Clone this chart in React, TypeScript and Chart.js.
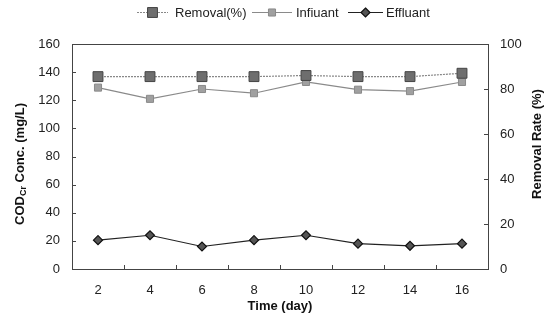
import React, { useEffect, useRef } from 'react';
import { Chart, registerables } from 'chart.js';

Chart.register(...registerables);

const days = ['2', '4', '6', '8', '10', '12', '14', '16'];
const removalRate = [85.5, 85.5, 85.5, 85.5, 86, 85.5, 85.5, 87];
const influent = [129, 121, 128, 125, 133, 127.5, 126.5, 133];
const effluent = [20.5, 24, 16, 20.5, 24, 18, 16.5, 18];
const legendLabels = ['Removal(%)', 'Infiuant', 'Effluant'];

const FONT = "'Liberation Sans', Arial, Helvetica, sans-serif";

const decorPlugin = {
  id: 'decor',
  beforeDatasetsDraw(chart: any) {
    const { ctx, chartArea: a, scales } = chart;
    ctx.save();
    ctx.strokeStyle = '#444';
    ctx.lineWidth = 1;
    ctx.strokeRect(Math.round(a.left) + 0.5, Math.round(a.top) + 0.5, Math.round(a.right - a.left), Math.round(a.bottom - a.top));
    ctx.beginPath();
    const yl = scales.y;
    yl.ticks.forEach((t: any) => {
      const y = Math.round(yl.getPixelForValue(t.value)) + 0.5;
      ctx.moveTo(a.left, y);
      ctx.lineTo(a.left + 4, y);
    });
    const yr = scales.y2;
    yr.ticks.forEach((t: any) => {
      const y = Math.round(yr.getPixelForValue(t.value)) + 0.5;
      ctx.moveTo(a.right - 4, y);
      ctx.lineTo(a.right, y);
    });
    const xs = scales.x;
    for (let i = 1; i < days.length; i++) {
      const x = Math.round((xs.getPixelForValue(i - 1) + xs.getPixelForValue(i)) / 2) + 0.5;
      ctx.moveTo(x, a.bottom);
      ctx.lineTo(x, a.bottom - 4);
    }
    ctx.stroke();
    ctx.restore();
  },
  afterDraw(chart: any) {
    const { ctx, chartArea: a } = chart;
    ctx.save();
    ctx.fillStyle = '#111';
    ctx.textBaseline = 'middle';
    // x title
    ctx.font = `bold 13px ${FONT}`;
    ctx.textAlign = 'center';
    ctx.fillText('Time (day)', (a.left + a.right) / 2, 306);

    // left title with subscript
    ctx.save();
    ctx.translate(20, 164);
    ctx.rotate(-Math.PI / 2);
    ctx.textAlign = 'left';
    const big = `bold 13px ${FONT}`;
    const small = `bold 9px ${FONT}`;
    ctx.font = big;
    const w1 = ctx.measureText('COD').width;
    const w3 = ctx.measureText(' Conc. (mg/L)').width;
    ctx.font = small;
    const w2 = ctx.measureText('Cr').width;
    let x = -(w1 + w2 + w3) / 2;
    ctx.font = big;
    ctx.fillText('COD', x, 0);
    x += w1;
    ctx.font = small;
    ctx.fillText('Cr', x, 4);
    x += w2;
    ctx.font = big;
    ctx.fillText(' Conc. (mg/L)', x, 0);
    ctx.restore();

    // right title
    ctx.save();
    ctx.translate(537, 144);
    ctx.rotate(-Math.PI / 2);
    ctx.textAlign = 'center';
    ctx.font = big;
    ctx.fillText('Removal Rate (%)', 0, 0);
    ctx.restore();

    // legend
    const ly = 12.5;
    const items = [
      { x0: 137, x1: 168, tx: 175 },
      { x0: 252, x1: 292, tx: 296 },
      { x0: 348, x1: 383, tx: 386 },
    ];
    chart.data.datasets.forEach((ds: any, i: number) => {
      const it = items[i];
      ctx.save();
      ctx.strokeStyle = ds.borderColor;
      ctx.lineWidth = ds.borderWidth;
      ctx.setLineDash(ds.borderDash || []);
      ctx.beginPath();
      ctx.moveTo(it.x0, ly);
      ctx.lineTo(it.x1, ly);
      ctx.stroke();
      ctx.setLineDash([]);
      const cx = (it.x0 + it.x1) / 2;
      ctx.fillStyle = ds.pointBackgroundColor;
      ctx.strokeStyle = ds.pointBorderColor;
      ctx.lineWidth = ds.pointBorderWidth;
      ctx.beginPath();
      if (ds.pointStyle === 'rectRot') {
        const r = ds.pointRadius;
        ctx.moveTo(cx, ly - r);
        ctx.lineTo(cx + r, ly);
        ctx.lineTo(cx, ly + r);
        ctx.lineTo(cx - r, ly);
        ctx.closePath();
      } else {
        const s = ds.pointRadius * Math.SQRT1_2;
        ctx.rect(cx - s, ly - s, 2 * s, 2 * s);
      }
      ctx.fill();
      ctx.stroke();
      ctx.fillStyle = '#222';
      ctx.font = `13px ${FONT}`;
      ctx.textAlign = 'left';
      ctx.fillText(legendLabels[i], it.tx, ly + 0.5);
      ctx.restore();
    });
    ctx.restore();
  },
};

export default function App() {
  const ref = useRef<HTMLCanvasElement | null>(null);
  useEffect(() => {
    if (!ref.current) return;
    const chart = new Chart(ref.current, {
      type: 'line',
      data: {
        labels: days,
        datasets: [
          {
            label: legendLabels[0],
            data: removalRate,
            yAxisID: 'y2',
            borderColor: '#888',
            borderWidth: 1.2,
            borderDash: [2, 1],
            pointStyle: 'rect',
            pointRadius: 7,
            pointBackgroundColor: '#6e6e6e',
            pointBorderColor: '#444',
            pointBorderWidth: 1,
            tension: 0,
          },
          {
            label: legendLabels[1],
            data: influent,
            yAxisID: 'y',
            borderColor: '#8a8a8a',
            borderWidth: 1.2,
            pointStyle: 'rect',
            pointRadius: 5,
            pointBackgroundColor: '#a0a0a0',
            pointBorderColor: '#8a8a8a',
            pointBorderWidth: 1,
            tension: 0,
          },
          {
            label: legendLabels[2],
            data: effluent,
            yAxisID: 'y',
            borderColor: '#222',
            borderWidth: 1.2,
            pointStyle: 'rectRot',
            pointRadius: 4.5,
            pointBackgroundColor: '#555',
            pointBorderColor: '#111',
            pointBorderWidth: 1.2,
            tension: 0,
          },
        ],
      },
      options: {
        responsive: false,
        animation: false,
        layout: { padding: { top: 44, left: 0, right: 0, bottom: 0 } },
        plugins: { legend: { display: false }, tooltip: { enabled: false } },
        scales: {
          x: {
            type: 'category',
            offset: true,
            grid: { display: false, drawTicks: false, offset: true },
            border: { display: false },
            ticks: { font: { family: FONT, size: 13 }, color: '#222', padding: 14, maxRotation: 0 },
            afterFit: (s: any) => { s.height = 56; },
          },
          y: {
            position: 'left',
            min: 0,
            max: 160,
            grid: { display: false, drawTicks: false },
            border: { display: false },
            ticks: { stepSize: 20, font: { family: FONT, size: 13 }, color: '#222', padding: 12 },
            afterFit: (s: any) => { s.width = 72; },
          },
          y2: {
            position: 'right',
            min: 0,
            max: 100,
            grid: { display: false, drawTicks: false },
            border: { display: false },
            ticks: { stepSize: 20, font: { family: FONT, size: 13 }, color: '#222', padding: 12 },
            afterFit: (s: any) => { s.width = 67; },
          },
        },
      },
      plugins: [decorPlugin],
    });
    return () => chart.destroy();
  }, []);
  return (
    <div style={{ position: 'absolute', left: 0, top: 0, width: 555, height: 325, background: '#fff' }}>
      <canvas ref={ref} width={555} height={325} style={{ display: 'block' }} />
    </div>
  );
}
